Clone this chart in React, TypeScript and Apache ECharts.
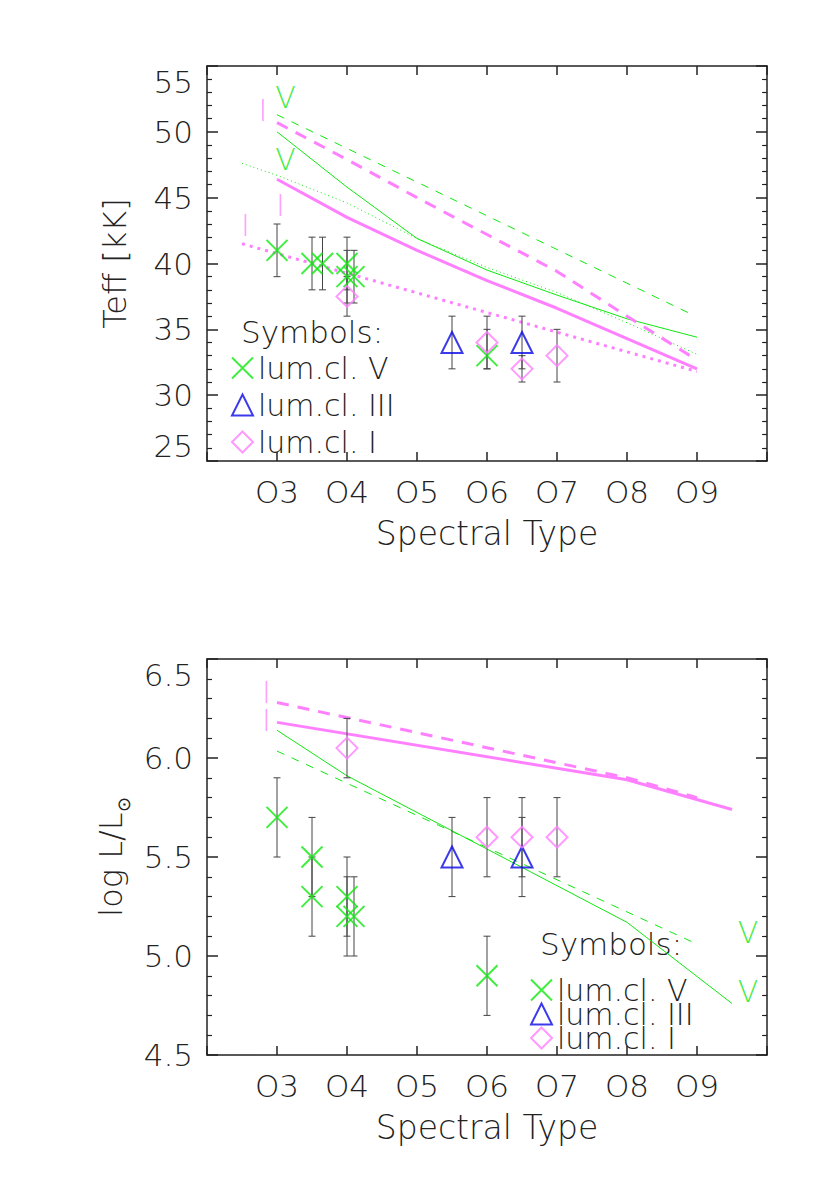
import React, { useEffect, useRef } from 'react';
import * as echarts from 'echarts';

// ---------- axis ticks ----------
const SPECTRAL_TICKS = [3, 4, 5, 6, 7, 8, 9];
const SPECTRAL_LABELS = ['O3', 'O4', 'O5', 'O6', 'O7', 'O8', 'O9'];

// ---------- Teff panel: observed points ----------
const TEFF_V_X = [3, 3.5, 3.65, 4.0, 4.0, 4.1, 6.0];
const TEFF_V_Y = [41, 40, 40, 40, 39, 39, 33];
const TEFF_V_LO = [39, 38, 38, 38, 37, 37, 32];
const TEFF_V_HI = [43, 42, 42, 42, 41, 41, 35];

const TEFF_III_X = [5.5, 6.5];
const TEFF_III_Y = [34, 34];
const TEFF_III_LO = [32, 32];
const TEFF_III_HI = [36, 36];

const TEFF_I_X = [4.0, 6.0, 6.5, 7.0];
const TEFF_I_Y = [37.5, 34, 32, 33];
const TEFF_I_LO = [36, 32, 31, 31];
const TEFF_I_HI = [39, 36, 33, 35];

// ---------- Teff panel: calibration lines ----------
const TEFF_GREEN_SOLID_X = [3, 4, 5, 6, 7, 8, 9];
const TEFF_GREEN_SOLID_Y = [50.0, 45.8, 41.9, 39.5, 37.6, 35.8, 34.4];
const TEFF_GREEN_DOT_X = [2.5, 3, 4, 5, 6, 7, 8, 9];
const TEFF_GREEN_DOT_Y = [47.6, 46.7, 44.6, 41.9, 39.7, 37.8, 35.5, 33.1];
const TEFF_GREEN_DASH_X = [3, 8.9];
const TEFF_GREEN_DASH_Y = [51.3, 36.2];
const TEFF_PINK_DASH_X = [3, 4, 5, 6, 7, 8, 8.9];
const TEFF_PINK_DASH_Y = [50.7, 47.9, 45.0, 42.2, 39.4, 36.0, 33.0];
const TEFF_PINK_SOLID_X = [3, 4, 5, 6, 7, 8, 9];
const TEFF_PINK_SOLID_Y = [46.4, 43.5, 41.0, 38.7, 36.6, 34.3, 32.0];
const TEFF_PINK_DOT_X = [2.5, 9];
const TEFF_PINK_DOT_Y = [41.5, 31.8];

// text marks in the Teff panel
const TEFF_V_MARK_X = [3.12, 3.12];
const TEFF_V_MARK_Y = [52.6, 47.9];
const TEFF_I_MARK_X = [2.8, 3.05, 2.55];
const TEFF_I_MARK_Y = [51.6, 44.4, 42.9];

// ---------- log L panel: observed points ----------
const LUM_V_X = [3, 3.5, 3.5, 4.0, 4.0, 4.1, 6.0];
const LUM_V_Y = [5.7, 5.5, 5.3, 5.3, 5.2, 5.2, 4.9];
const LUM_V_LO = [5.5, 5.3, 5.1, 5.1, 5.0, 5.0, 4.7];
const LUM_V_HI = [5.9, 5.7, 5.5, 5.5, 5.4, 5.4, 5.1];

const LUM_III_X = [5.5, 6.5];
const LUM_III_Y = [5.5, 5.5];
const LUM_III_LO = [5.3, 5.3];
const LUM_III_HI = [5.7, 5.7];

const LUM_I_X = [4.0, 6.0, 6.5, 7.0];
const LUM_I_Y = [6.05, 5.6, 5.6, 5.6];
const LUM_I_LO = [5.9, 5.4, 5.4, 5.4];
const LUM_I_HI = [6.2, 5.8, 5.8, 5.8];

// ---------- log L panel: calibration lines ----------
const LUM_PINK_DASH_X = [3, 8, 9];
const LUM_PINK_DASH_Y = [6.28, 5.9, 5.8];
const LUM_PINK_SOLID_X = [3, 8, 9.5];
const LUM_PINK_SOLID_Y = [6.18, 5.89, 5.74];
const LUM_GREEN_SOLID_X = [3, 4, 8, 9.5];
const LUM_GREEN_SOLID_Y = [6.14, 5.91, 5.17, 4.76];
const LUM_GREEN_DASH_X = [3, 8.94];
const LUM_GREEN_DASH_Y = [6.035, 5.07];

const LUM_I_MARK_X = [2.85, 2.85];
const LUM_I_MARK_Y = [6.33, 6.19];
const LUM_V_MARK_X = [9.73, 9.73];
const LUM_V_MARK_Y = [5.12, 4.82];

const LEGEND_NAMES = ['lum.cl. V', 'lum.cl. III', 'lum.cl. I'];

// ---------- style ----------
const FONT = "'DejaVu Sans', sans-serif";
const FW = 200;
const INK = '#222222';
const GREEN = '#10e810';
const PINK = '#ff80ff';
const BLUE = '#0a0ae6';
const XSYM = 'path://M0,0L10,10M10,0L0,10';

const zip = (xs: number[], ys: number[]) => xs.map((x, i) => [x, ys[i]]);

function errorSeries(xs: number[], lo: number[], hi: number[], xi: number, yi: number) {
  return {
    type: 'custom',
    xAxisIndex: xi,
    yAxisIndex: yi,
    z: 3,
    silent: true,
    encode: { x: 0, y: [1, 2] },
    data: xs.map((x, i) => [x, lo[i], hi[i]]),
    renderItem: (_p: any, api: any) => {
      const x = api.value(0);
      const a = api.coord([x, api.value(2)]);
      const b = api.coord([x, api.value(1)]);
      const w = 3.5;
      const style = { stroke: '#444', lineWidth: 1 };
      return {
        type: 'group',
        children: [
          { type: 'line', shape: { x1: a[0], y1: a[1], x2: b[0], y2: b[1] }, style },
          { type: 'line', shape: { x1: a[0] - w, y1: a[1], x2: a[0] + w, y2: a[1] }, style },
          { type: 'line', shape: { x1: b[0] - w, y1: b[1], x2: b[0] + w, y2: b[1] }, style },
        ],
      };
    },
  };
}

function symSeries(name: string, xs: number[], ys: number[], xi: number, yi: number, symbol: string, color: string) {
  return {
    type: 'scatter',
    name,
    xAxisIndex: xi,
    yAxisIndex: yi,
    symbol,
    symbolSize: 21,
    z: 5,
    silent: true,
    itemStyle: { color: 'rgba(0,0,0,0)', borderColor: color, borderWidth: 2 },
    data: zip(xs, ys),
  };
}

function lineSeries(xs: number[], ys: number[], xi: number, yi: number, color: string, width: number, type: any) {
  return {
    type: 'line',
    xAxisIndex: xi,
    yAxisIndex: yi,
    symbol: 'none',
    showSymbol: false,
    silent: true,
    z: 2,
    lineStyle: { color, width, type },
    data: zip(xs, ys),
  };
}

function textSeries(xs: number[], ys: number[], text: string, color: string, xi: number, yi: number) {
  return {
    type: 'scatter',
    xAxisIndex: xi,
    yAxisIndex: yi,
    symbolSize: 0,
    silent: true,
    z: 4,
    data: zip(xs, ys),
    label: {
      show: true,
      position: 'inside',
      formatter: text,
      color,
      fontSize: 30,
      lineHeight: 22,
      fontFamily: FONT,
      fontWeight: FW,
    },
  };
}

const spectralFormatter = (v: number) => {
  const i = SPECTRAL_TICKS.indexOf(Math.round(v));
  return i >= 0 && Math.abs(v - Math.round(v)) < 1e-6 ? SPECTRAL_LABELS[i] : '';
};

const axisLineStyle = { color: INK, width: 1.5 };

function xAxes(grid: number) {
  const base = {
    gridIndex: grid,
    type: 'value',
    min: 2,
    max: 10,
    interval: 1,
    splitLine: { show: false },
    axisLine: { show: true, onZero: false, lineStyle: axisLineStyle },
    axisTick: { show: true, inside: true, length: 9, lineStyle: axisLineStyle },
  };
  return [
    {
      ...base,
      position: 'bottom',
      name: 'Spectral Type',
      nameLocation: 'middle',
      nameGap: 56,
      nameTextStyle: { fontSize: 33, fontFamily: FONT, fontWeight: FW, color: INK },
      axisLabel: {
        show: true,
        margin: 15,
        fontSize: 31,
        fontFamily: FONT,
        fontWeight: FW,
        color: INK,
        formatter: spectralFormatter,
      },
    },
    { ...base, position: 'top', axisLabel: { show: false } },
  ];
}

function yAxes(grid: number, min: number, max: number, interval: number, name: string, fmt: (v: number) => string, minAlign: string, rich?: any) {
  const base = {
    gridIndex: grid,
    type: 'value',
    min,
    max,
    interval,
    splitLine: { show: false },
    axisLine: { show: true, onZero: false, lineStyle: axisLineStyle },
    axisTick: { show: true, inside: true, length: 11, lineStyle: axisLineStyle },
    minorTick: { show: true, splitNumber: 5, length: 5, lineStyle: { color: INK, width: 1.2 } },
  };
  return [
    {
      ...base,
      position: 'left',
      name,
      nameLocation: 'middle',
      nameGap: 76,
      nameRotate: 90,
      nameTextStyle: { fontSize: 32, fontFamily: FONT, fontWeight: FW, color: INK, rich },
      axisLabel: {
        show: true,
        margin: 14,
        fontSize: 31,
        fontFamily: FONT,
        fontWeight: FW,
        color: INK,
        formatter: fmt,
        verticalAlignMinLabel: minAlign,
        verticalAlignMaxLabel: 'top',
      },
    },
    { ...base, position: 'right', axisLabel: { show: false } },
  ];
}

function legendBlock(left: number, top: number, gap: number) {
  return {
    data: LEGEND_NAMES,
    orient: 'vertical',
    left,
    top,
    padding: 0,
    itemGap: gap,
    itemWidth: 21,
    itemHeight: 21,
    selectedMode: false,
    textStyle: { fontSize: 30, fontFamily: FONT, fontWeight: FW, color: INK },
  };
}

export default function App() {
  const ref = useRef<HTMLDivElement>(null);

  useEffect(() => {
    document.body.style.margin = '0';
    if (!ref.current) return;
    const chart = echarts.init(ref.current, undefined, { renderer: 'svg' });

    const series: any[] = [
      // Teff panel lines
      lineSeries(TEFF_GREEN_SOLID_X, TEFF_GREEN_SOLID_Y, 0, 0, GREEN, 1, 'solid'),
      lineSeries(TEFF_GREEN_DOT_X, TEFF_GREEN_DOT_Y, 0, 0, GREEN, 1, [1, 3]),
      lineSeries(TEFF_GREEN_DASH_X, TEFF_GREEN_DASH_Y, 0, 0, GREEN, 1, [8, 8]),
      lineSeries(TEFF_PINK_DASH_X, TEFF_PINK_DASH_Y, 0, 0, PINK, 3, [12, 9]),
      lineSeries(TEFF_PINK_SOLID_X, TEFF_PINK_SOLID_Y, 0, 0, PINK, 3, 'solid'),
      lineSeries(TEFF_PINK_DOT_X, TEFF_PINK_DOT_Y, 0, 0, PINK, 3, [3, 5]),
      // Teff error bars
      errorSeries(TEFF_V_X, TEFF_V_LO, TEFF_V_HI, 0, 0),
      errorSeries(TEFF_III_X, TEFF_III_LO, TEFF_III_HI, 0, 0),
      errorSeries(TEFF_I_X, TEFF_I_LO, TEFF_I_HI, 0, 0),
      // Teff symbols
      symSeries(LEGEND_NAMES[0], TEFF_V_X, TEFF_V_Y, 0, 0, XSYM, GREEN),
      symSeries(LEGEND_NAMES[1], TEFF_III_X, TEFF_III_Y, 0, 0, 'triangle', BLUE),
      symSeries(LEGEND_NAMES[2], TEFF_I_X, TEFF_I_Y, 0, 0, 'diamond', PINK),
      textSeries(TEFF_V_MARK_X, TEFF_V_MARK_Y, 'V', GREEN, 0, 0),
      textSeries(TEFF_I_MARK_X, TEFF_I_MARK_Y, 'I', PINK, 0, 0),

      // log L panel lines
      lineSeries(LUM_PINK_DASH_X, LUM_PINK_DASH_Y, 2, 2, PINK, 3, [12, 9]),
      lineSeries(LUM_PINK_SOLID_X, LUM_PINK_SOLID_Y, 2, 2, PINK, 3, 'solid'),
      lineSeries(LUM_GREEN_SOLID_X, LUM_GREEN_SOLID_Y, 2, 2, GREEN, 1, 'solid'),
      lineSeries(LUM_GREEN_DASH_X, LUM_GREEN_DASH_Y, 2, 2, GREEN, 1, [8, 8]),
      errorSeries(LUM_V_X, LUM_V_LO, LUM_V_HI, 2, 2),
      errorSeries(LUM_III_X, LUM_III_LO, LUM_III_HI, 2, 2),
      errorSeries(LUM_I_X, LUM_I_LO, LUM_I_HI, 2, 2),
      symSeries(LEGEND_NAMES[0], LUM_V_X, LUM_V_Y, 2, 2, XSYM, GREEN),
      symSeries(LEGEND_NAMES[1], LUM_III_X, LUM_III_Y, 2, 2, 'triangle', BLUE),
      symSeries(LEGEND_NAMES[2], LUM_I_X, LUM_I_Y, 2, 2, 'diamond', PINK),
      textSeries(LUM_I_MARK_X, LUM_I_MARK_Y, 'I', PINK, 2, 2),
      textSeries(LUM_V_MARK_X, LUM_V_MARK_Y, 'V', GREEN, 2, 2),
    ];

    chart.setOption({
      animation: false,
      backgroundColor: '#ffffff',
      grid: [
        { left: 207, top: 66, width: 560, height: 395 },
        { left: 207, top: 659, width: 560, height: 396 },
      ],
      xAxis: [...xAxes(0), ...xAxes(1)],
      yAxis: [
        ...yAxes(0, 25, 55, 5, 'Teff [kK]', (v: number) => String(Math.round(v)), 'bottom'),
        ...yAxes(1, 4.5, 6.5, 0.5, 'log L/L{sub|⊙}', (v: number) => v.toFixed(1), 'middle', {
          sub: { fontSize: 18, fontFamily: FONT, fontWeight: FW, color: INK, verticalAlign: 'bottom', padding: [0, 0, -6, 0] },
        }),
      ],
      legend: [legendBlock(231, 353, 7), legendBlock(530, 975, -6)],
      graphic: [
        { type: 'text', left: 241, top: 316, style: { text: 'Symbols:', fontSize: 31, fontFamily: FONT, fontWeight: FW, fill: INK } },
        { type: 'text', left: 540, top: 928, style: { text: 'Symbols:', fontSize: 31, fontFamily: FONT, fontWeight: FW, fill: INK } },
      ],
      series,
    });

    return () => chart.dispose();
  }, []);

  return <div ref={ref} style={{ width: 830, height: 1186 }} />;
}
